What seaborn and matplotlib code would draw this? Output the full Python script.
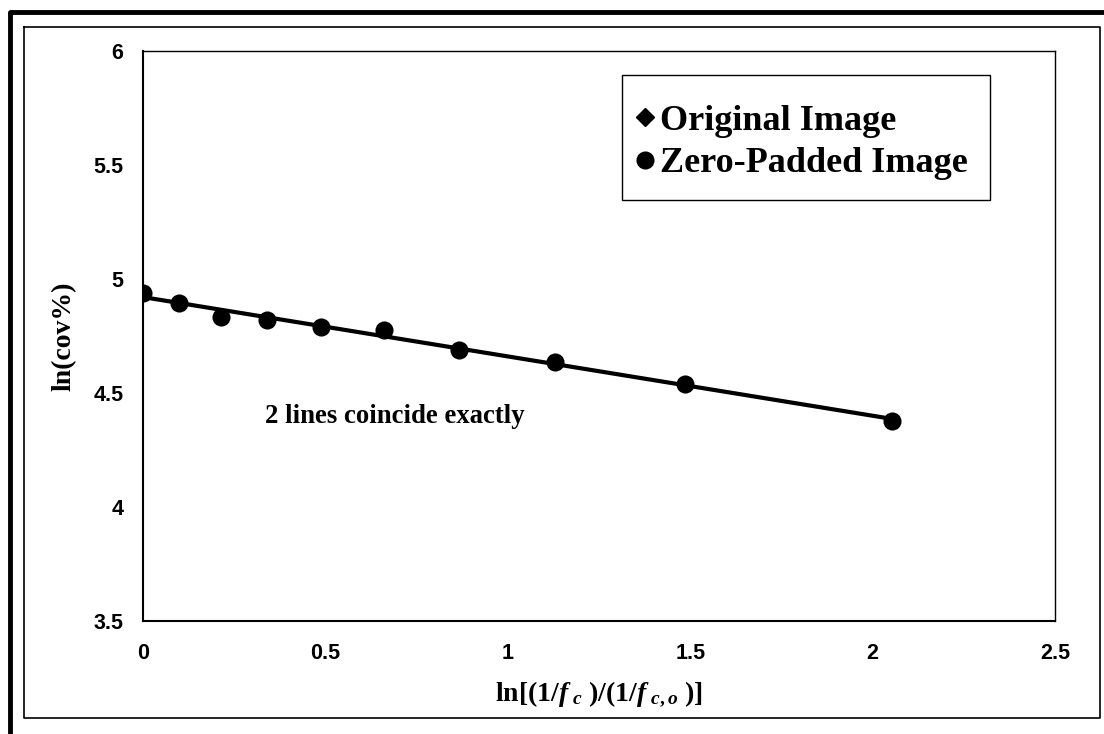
import numpy as np
import pandas as pd
import matplotlib
matplotlib.use("Agg")
import matplotlib.pyplot as plt
from matplotlib.lines import Line2D
from matplotlib.patches import Rectangle
import seaborn as sns

# ---- data ----
x_vals = [0.0, 0.100, 0.215, 0.340, 0.489, 0.661, 0.867, 1.130, 1.486, 2.052]
orig_vals = [4.94, 4.893, 4.835, 4.820, 4.791, 4.776, 4.689, 4.637, 4.539, 4.377]
zero_vals = [4.94, 4.893, 4.835, 4.820, 4.791, 4.776, 4.689, 4.637, 4.539, 4.377]
x_ticks = [0, 0.5, 1, 1.5, 2, 2.5]
y_ticks = [3.5, 4, 4.5, 5, 5.5, 6]
series_names = ["Original Image", "Zero-Padded Image"]
annotation = "2 lines coincide exactly"

sns.set_theme(style="white")
plt.rcParams['font.family'] = ['Liberation Sans', 'DejaVu Sans']
plt.rcParams['text.color'] = 'black'
plt.rcParams['axes.labelcolor'] = 'black'
plt.rcParams['xtick.color'] = 'black'
plt.rcParams['ytick.color'] = 'black'
plt.rcParams['mathtext.fontset'] = 'custom'
plt.rcParams['mathtext.rm'] = 'Liberation Serif:bold'
plt.rcParams['mathtext.it'] = 'Liberation Serif:bold:italic'
plt.rcParams['mathtext.bf'] = 'Liberation Serif:bold'
plt.rcParams['mathtext.bfit'] = 'Liberation Serif:bold:italic'

fig = plt.figure(figsize=(11.04, 7.34), dpi=100)
W, H = 1104, 734
ax = fig.add_axes([143 / W, 1 - 621 / H, (1055 - 143) / W, (621 - 51) / H])

df = pd.DataFrame({"x": x_vals, "orig": orig_vals, "zero": zero_vals})

# linear trend line through the data
coef = np.polyfit(df["x"], df["zero"], 1)
fit_df = pd.DataFrame({"x": [df["x"].min(), df["x"].max()]})
fit_df["y"] = np.polyval(coef, fit_df["x"])
sns.lineplot(data=fit_df, x="x", y="y", ax=ax, color="black", linewidth=3.0, zorder=2)

sns.scatterplot(data=df, x="x", y="orig", ax=ax, marker="D", s=60, color="black",
                edgecolor="black", linewidth=0, zorder=3)
sns.scatterplot(data=df, x="x", y="zero", ax=ax, marker="o", s=170, color="black",
                edgecolor="black", linewidth=0, zorder=4)

ax.set_xlim(0, 2.5)
ax.set_ylim(3.5, 6)
ax.set_xticks(x_ticks)
ax.set_xticklabels([f"{v:g}" for v in x_ticks])
ax.set_yticks(y_ticks)
ax.set_yticklabels([f"{v:g}" for v in y_ticks])
ax.tick_params(axis="both", length=0, labelsize=15.5, colors="black")
ax.tick_params(axis="x", pad=16)
ax.tick_params(axis="y", pad=14)
for lab in ax.get_xticklabels() + ax.get_yticklabels():
    lab.set_fontweight("bold")
for sp in ax.spines.values():
    sp.set_visible(True)
    sp.set_color("black")
    sp.set_linewidth(1.0)
ax.spines["left"].set_linewidth(1.5)
ax.spines["bottom"].set_linewidth(1.5)

ax.set_xlabel(r"ln[(1/$\mathit{f}_{\ c}$ )/(1/$\mathit{f}_{\ c,o}$ )]",
              fontsize=20, fontweight="bold", family="Liberation Serif", labelpad=11,
              color="black")
ax.set_ylabel("ln(cov%)", fontsize=20, fontweight="bold", family="Liberation Serif",
              labelpad=12, color="black")

ax.text(0.69, 4.395, annotation, fontsize=19.3, fontweight="bold", family="Liberation Serif",
        ha="center", va="center", color="black")

# legend box
ax.add_patch(Rectangle(((622 - 143) / 912, (621 - 200) / 570), 368 / 912, 125 / 570,
                       transform=ax.transAxes, facecolor="white", edgecolor="black",
                       linewidth=1.0, zorder=5))
handles = [
    Line2D([], [], marker="D", color="black", linestyle="none", markersize=9),
    Line2D([], [], marker="o", color="black", linestyle="none", markersize=12),
]
leg = ax.legend(handles, series_names, loc="upper left",
                bbox_to_anchor=((622 - 143) / 912, (621 - 92) / 570), frameon=False,
                prop={"family": "Liberation Serif", "weight": "bold", "size": 26},
                handletextpad=0.1, handlelength=0.6, borderpad=0.35,
                labelspacing=0.25, borderaxespad=0, labelcolor="black")
leg.set_zorder(6)

# chart-area border and outer frame
fig.add_artist(Line2D([24 / W, 1100 / W, 1100 / W, 24 / W, 24 / W],
                      [1 - 27 / H, 1 - 27 / H, 1 - 718 / H, 1 - 718 / H, 1 - 27 / H],
                      color="black", linewidth=1.2, transform=fig.transFigure))
fig.add_artist(Line2D([10 / W, 10 / W, 1.0],
                      [0, 1 - 12 / H, 1 - 12 / H],
                      color="black", linewidth=3.5, transform=fig.transFigure))

fig.savefig("out.png", dpi=100)
